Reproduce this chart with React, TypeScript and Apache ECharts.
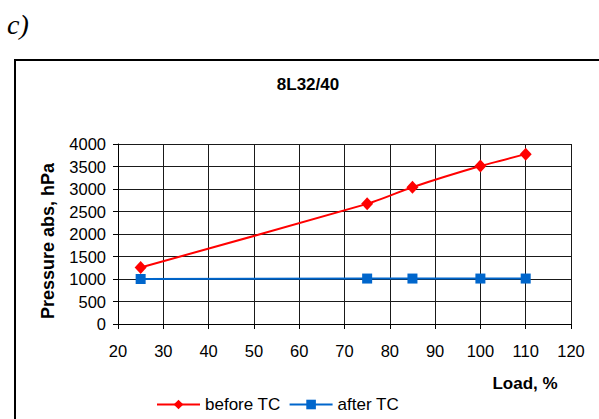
import React, { useEffect, useRef } from "react";
import * as echarts from "echarts";

const loadBefore = [25, 75, 85, 100, 110];
const pressureBefore = [1255, 2670, 3040, 3510, 3775];
const loadAfter = [25, 75, 85, 100, 110];
const pressureAfter = [1000, 1010, 1010, 1010, 1010];
const chartTitle = "8L32/40";
const seriesNames = ["before TC", "after TC"];

export default function App() {
  const ref = useRef<HTMLDivElement>(null);
  useEffect(() => {
    if (!ref.current) return;
    const chart = echarts.init(ref.current, null, { renderer: "svg" });
    const font = "Arial, 'Liberation Sans', sans-serif";
    chart.setOption({
      animation: false,
      backgroundColor: "#fff",
      textStyle: { fontFamily: font },
      grid: { left: 118, top: 144, right: 28, bottom: 95, containLabel: false },
      legend: {
        left: 156,
        top: 396,
        padding: 0,
        itemWidth: 43,
        itemHeight: 12,
        itemGap: 8,
        textStyle: { fontSize: 17, color: "#000", fontFamily: font },
        data: seriesNames,
      },
      xAxis: {
        type: "value",
        min: 20,
        max: 120,
        interval: 10,
        axisLine: { show: true, onZero: false, lineStyle: { color: "#000", width: 1 } },
        axisTick: { show: true, inside: false, length: 5, lineStyle: { color: "#000" } },
        axisLabel: { fontSize: 16.5, color: "#000", margin: 18, fontFamily: font },
        splitLine: { show: true, lineStyle: { color: "#1a1a1a", width: 1 } },
      },
      yAxis: {
        type: "value",
        min: 0,
        max: 4000,
        interval: 500,
        axisLine: { show: true, lineStyle: { color: "#000", width: 1 } },
        axisTick: { show: true, inside: false, length: 5, lineStyle: { color: "#000" } },
        axisLabel: {
          fontSize: 16.5,
          color: "#000",
          margin: 12,
          fontFamily: font,
          formatter: (v: number) => String(v),
        },
        splitLine: { show: true, lineStyle: { color: "#1a1a1a", width: 1 } },
      },
      series: [
        {
          name: seriesNames[0],
          type: "line",
          data: loadBefore.map((x, i) => [x, pressureBefore[i]]),
          smooth: 0.2,
          symbol: "diamond",
          symbolSize: [12, 13],
          showAllSymbol: true,
          itemStyle: { color: "#ff0000" },
          lineStyle: { color: "#ff0000", width: 2 },
          z: 3,
        },
        {
          name: seriesNames[1],
          type: "line",
          data: loadAfter.map((x, i) => [x, pressureAfter[i]]),
          symbol: "rect",
          symbolSize: 10,
          itemStyle: { color: "#0066cc" },
          lineStyle: { color: "#0066cc", width: 2 },
          z: 2,
        },
      ],
      graphic: [
        {
          type: "rect",
          shape: { x: 15, y: 60, width: 620, height: 420 },
          style: { fill: "none", stroke: "#000", lineWidth: 2 },
          silent: true,
        },
        {
          type: "text",
          x: 7,
          y: 24,
          style: {
            text: "c)",
            fontFamily: "'Liberation Serif', 'Times New Roman', serif",
            fontStyle: "italic",
            fontSize: 28,
            fill: "#000",
            textVerticalAlign: "middle",
          },
        },
        {
          type: "text",
          x: 308,
          y: 84,
          style: {
            text: chartTitle,
            fontFamily: font,
            fontWeight: "bold",
            fontSize: 17,
            fill: "#000",
            textAlign: "center",
            textVerticalAlign: "middle",
          },
        },
        {
          type: "text",
          x: 48,
          y: 241,
          rotation: Math.PI / 2,
          style: {
            text: "Pressure abs, hPa",
            fontFamily: font,
            fontWeight: "bold",
            fontSize: 18,
            fill: "#000",
            textAlign: "center",
            textVerticalAlign: "middle",
          },
        },
        {
          type: "text",
          x: 525,
          y: 383,
          style: {
            text: "Load, %",
            fontFamily: font,
            fontWeight: "bold",
            fontSize: 17,
            fill: "#000",
            textAlign: "center",
            textVerticalAlign: "middle",
          },
        },
      ],
    });
    return () => chart.dispose();
  }, []);
  return (
    <div
      ref={ref}
      style={{ position: "absolute", left: 0, top: 0, width: 599, height: 419, background: "#fff" }}
    />
  );
}
